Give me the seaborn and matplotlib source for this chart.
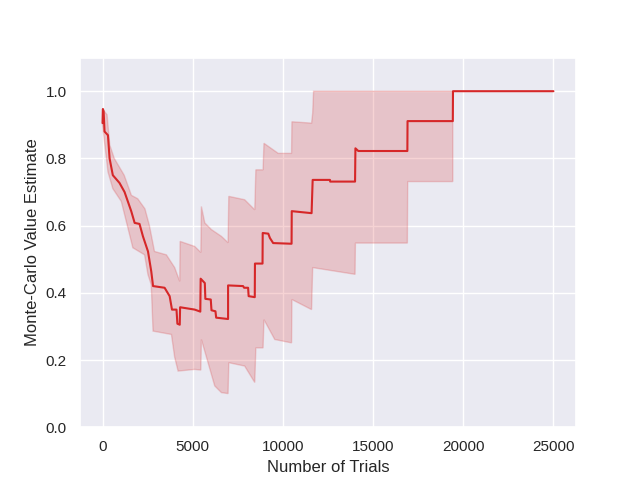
import matplotlib
matplotlib.use("Agg")
import matplotlib.pyplot as plt
import numpy as np
import pandas as pd
import seaborn as sns

# mean value estimate (repeated x = vertical jump)
mean_trials = [0, 20, 60, 110, 300, 390, 570, 940, 1220, 1590, 1780, 2050, 2240,
               2520, 2700, 2800, 3440, 3720, 3850, 4100, 4150, 4280, 4300, 5110,
               5420, 5440, 5670, 5700, 6000, 6040, 6260, 6300, 6960, 6960, 7790,
               7850, 8070, 8100, 8440, 8450, 8870, 8880, 9190, 9280, 9460, 10480,
               10490, 11590, 11650, 12610, 12620, 14000, 14020, 14180, 16900,
               16910, 19420, 19430, 25000]
mean_value = [0.905, 0.947, 0.94, 0.88, 0.869, 0.80, 0.75, 0.727, 0.70, 0.643,
              0.608, 0.605, 0.568, 0.523, 0.464, 0.42, 0.415, 0.39, 0.35, 0.35,
              0.308, 0.305, 0.357, 0.35, 0.344, 0.442, 0.429, 0.382, 0.38, 0.348,
              0.345, 0.326, 0.322, 0.422, 0.42, 0.415, 0.415, 0.39, 0.387, 0.487,
              0.487, 0.578, 0.576, 0.563, 0.548, 0.546, 0.643, 0.637, 0.736,
              0.736, 0.731, 0.731, 0.83, 0.822, 0.822, 0.911, 0.911, 1.0, 1.0]

# confidence band edges
upper_trials = [0, 250, 400, 650, 1200, 1600, 1950, 2350, 2600, 2880, 3540, 4000,
                4280, 4300, 5110, 5450, 5480, 5670, 6040, 6590, 6960, 7000, 7880,
                8440, 8500, 8900, 8950, 9740, 10480, 10500, 11590, 11650, 11700,
                19420]
upper_value = [0.947, 0.93, 0.84, 0.80, 0.75, 0.69, 0.68, 0.65, 0.60, 0.523,
               0.513, 0.475, 0.434, 0.553, 0.538, 0.52, 0.657, 0.608, 0.588,
               0.568, 0.549, 0.687, 0.677, 0.647, 0.766, 0.766, 0.845, 0.815,
               0.815, 0.909, 0.905, 0.934, 1.0, 1.0]
lower_trials = [0, 300, 570, 1040, 1680, 2330, 2520, 2700, 2800, 3820, 4000, 4190,
                5110, 5450, 5480, 5850, 6220, 6590, 6960, 7000, 7880, 8440, 8500,
                8900, 8950, 9550, 10480, 10500, 11590, 11650, 14000, 14020, 16900,
                16920, 19420]
lower_value = [0.90, 0.76, 0.71, 0.672, 0.534, 0.513, 0.454, 0.424, 0.286, 0.276,
               0.208, 0.167, 0.172, 0.17, 0.261, 0.192, 0.123, 0.103, 0.10, 0.192,
               0.182, 0.133, 0.236, 0.236, 0.32, 0.261, 0.251, 0.38, 0.35, 0.475,
               0.455, 0.548, 0.548, 0.731, 0.731]

sns.set_theme()
plt.rcParams["font.family"] = ["Liberation Sans", "DejaVu Sans"]

red = "#d62728"
fig, ax = plt.subplots(figsize=(6.4, 4.8), dpi=100)

band_x = np.concatenate([upper_trials, lower_trials[::-1]])
band_y = np.concatenate([upper_value, lower_value[::-1]])
ax.fill(band_x, band_y, color=red, alpha=0.2, linewidth=1)

df = pd.DataFrame({"trials": mean_trials, "value": mean_value})
sns.lineplot(data=df, x="trials", y="value", estimator=None, sort=False,
             color=red, linewidth=1.5, ax=ax)

ax.set_ylim(0, 1.1)
ax.set_xlim(-1250, 26250)
ax.set_xlabel("Number of Trials")
ax.set_ylabel("Monte-Carlo Value Estimate")

plt.savefig("out.png")
